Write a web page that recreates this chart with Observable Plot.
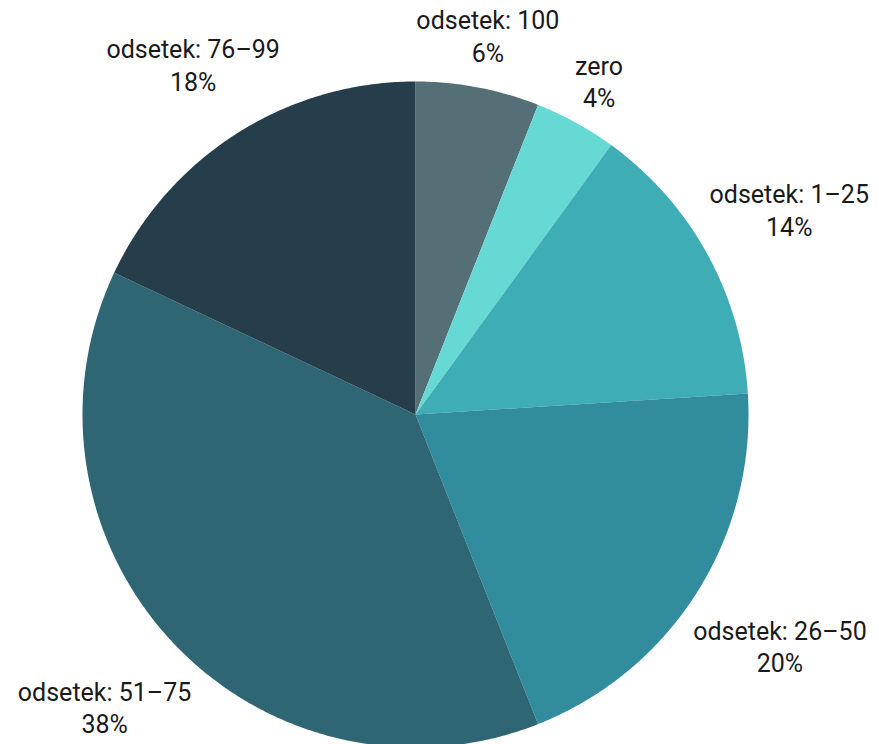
<!DOCTYPE html>
<html>
<head>
<meta charset="utf-8">
<script src="https://cdn.jsdelivr.net/npm/d3@7"></script>
<script src="https://cdn.jsdelivr.net/npm/@observablehq/plot@0.6"></script>
<style>
  html, body { margin: 0; padding: 0; background: #fff; }
  #chart svg { display: block; }
</style>
</head>
<body>
<div id="chart"></div>
<script>
// Data
const categories = ["odsetek: 100", "zero", "odsetek: 1–25", "odsetek: 26–50", "odsetek: 51–75", "odsetek: 76–99"];
const values = [6, 4, 14, 20, 38, 18];
const colors = ["#546f75", "#67d9d4", "#3fadb5", "#318c9e", "#2f6673", "#263d4c"];

// Layout
const W = 879, H = 744;
const cx = 415, cy = 414, R = 333;
const fontSize = 25, lineH = 1.3;

const pie = d3.pie().sort(null).value(d => d.value);
const arcs = pie(categories.map((c, i) => ({key: c, value: values[i]})));

// slice polygons (radius units = px, y up)
const poly = [];
for (const a of arcs) {
  const k = a.data.key;
  poly.push({key: k, x: 0, y: 0});
  const n = Math.max(2, Math.ceil((a.endAngle - a.startAngle) / (Math.PI / 360)));
  for (let j = 0; j <= n; j++) {
    const t = a.startAngle + (a.endAngle - a.startAngle) * j / n;
    poly.push({key: k, x: R * Math.sin(t), y: R * Math.cos(t)});
  }
  poly.push({key: k, x: 0, y: 0});
}

// label positions: box centre along the mid-angle, just clear of the rim
const ctx = document.createElement("canvas").getContext("2d");
ctx.font = `${fontSize}px Roboto`;
const pad = 8;
const labels = arcs.map(a => {
  const m = (a.startAngle + a.endAngle) / 2;
  const w = Math.max(ctx.measureText(a.data.key).width, ctx.measureText(a.data.value + "%").width);
  const h = fontSize * lineH * 2;
  const d = R + pad + Math.abs(Math.sin(m)) * w / 2 + Math.abs(Math.cos(m)) * h / 2;
  return {
    text: `${a.data.key}\n${a.data.value}%`,
    x: d * Math.sin(m),
    y: d * Math.cos(m)
  };
});

const plot = Plot.plot({
  width: W,
  height: H,
  margin: 0,
  x: {domain: [-cx, W - cx], range: [0, W], axis: null},
  y: {domain: [-(H - cy), cy], range: [H, 0], axis: null},
  color: {domain: categories, range: colors},
  style: {fontFamily: "Roboto, sans-serif", background: "#fff"},
  marks: [
    Plot.line(poly, {x: "x", y: "y", z: "key", fill: "key", stroke: "none", curve: "linear"}),
    Plot.text(labels, {x: "x", y: "y", text: "text", fontSize: fontSize, lineHeight: lineH,
      fill: "#1a1a1a", textAnchor: "middle", lineAnchor: "middle", fontFamily: "Roboto", fontWeight: 400})
  ]
});
document.getElementById("chart").appendChild(plot);
</script>
</body>
</html>
